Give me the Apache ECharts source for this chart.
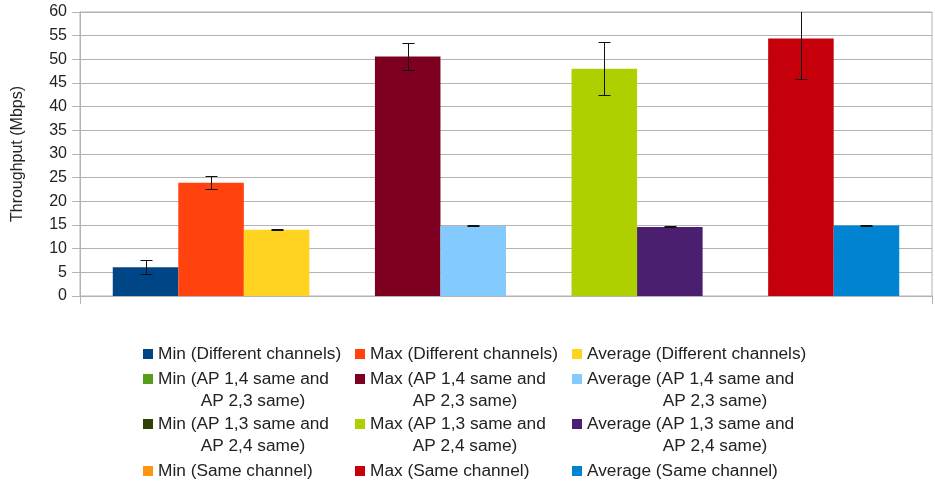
<!DOCTYPE html>
<html><head><meta charset="utf-8">
<script src="https://cdn.jsdelivr.net/npm/echarts@6/dist/echarts.min.js"></script>
<style>html,body{margin:0;padding:0;background:#fff}#c{width:935px;height:484px}</style>
</head><body><div id="c"></div>
<script>
// ---- data ----
const seriesNames = [
  'Min (Different channels)', 'Max (Different channels)', 'Average (Different channels)',
  'Min (AP 1,4 same and AP 2,3 same)', 'Max (AP 1,4 same and AP 2,3 same)', 'Average (AP 1,4 same and AP 2,3 same)',
  'Min (AP 1,3 same and AP 2,4 same)', 'Max (AP 1,3 same and AP 2,4 same)', 'Average (AP 1,3 same and AP 2,4 same)',
  'Min (Same channel)', 'Max (Same channel)', 'Average (Same channel)'
];
const seriesColors = [
  '#004586', '#ff420e', '#ffd320',
  '#579d1c', '#7e0021', '#83caff',
  '#314004', '#aecf00', '#4b1f6f',
  '#ff950e', '#c5000b', '#0084d1'
];
const throughputValues = [6.1, 23.9, 14.0, 0, 50.6, 14.8, 0, 48.0, 14.6, 0, 54.4, 14.9];
const errorValues = [1.45, 1.35, 0.05, null, 2.75, 0.1, null, 5.6, 0.1, null, 8.6, 0.1];
const yMin = 0, yMax = 60, yStep = 5;
const yAxisTitle = 'Throughput (Mbps)';

// ---- layout (styles only) ----
const FONT = 'Liberation Sans';
const TXT = '#222';
const GRID = '#b3b3b3';
const LFS = 17.3;
const legendCols = [143, 355, 572];
const legendColWidths = [190, 190, 256];
const legendRowTops = [[343, 0], [346, 1], [391, 1], [460, 0]]; // [top, twoLine]

const chart = echarts.init(document.getElementById('c'), null, {renderer: 'canvas'});

const barSeries = seriesNames.map((name, i) => ({
  name: name,
  type: 'custom',
  coordinateSystem: 'cartesian2d',
  itemStyle: {color: seriesColors[i]},
  encode: {x: 0, y: 1},
  data: [[i + 1, throughputValues[i]]],
  clip: true,
  z: 2,
  renderItem: function (params, api) {
    const x = api.value(0), v = api.value(1);
    const p0 = api.coord([x - 0.5, v]);
    const p1 = api.coord([x + 0.5, 0]);
    return {
      type: 'rect',
      shape: {x: p0[0], y: p0[1], width: p1[0] - p0[0], height: p1[1] - p0[1]},
      style: api.style()
    };
  }
}));

const errData = [];
throughputValues.forEach((v, i) => { if (errorValues[i] != null) errData.push([i + 1, v, errorValues[i]]); });

const errorSeries = {
  name: 'errors',
  type: 'custom',
  coordinateSystem: 'cartesian2d',
  encode: {x: 0, y: 1},
  data: errData,
  clip: true,
  z: 5,
  renderItem: function (params, api) {
    const x = api.value(0), v = api.value(1), e = api.value(2);
    const t = api.coord([x, v + e]), b = api.coord([x, v - e]);
    const cx = Math.round(t[0]) + 0.5;
    const ty = Math.round(t[1]) + 0.5, by = Math.round(b[1]) + 0.5;
    const st = {stroke: '#111', lineWidth: 1};
    return {type: 'group', children: [
      {type: 'line', shape: {x1: cx, y1: ty, x2: cx, y2: by}, style: st},
      {type: 'line', shape: {x1: cx - 6, y1: ty, x2: cx + 6, y2: ty}, style: st},
      {type: 'line', shape: {x1: cx - 6, y1: by, x2: cx + 6, y2: by}, style: st}
    ]};
  }
};

const legends = seriesNames.map((name, i) => {
  const col = i % 3, row = Math.floor(i / 3);
  const twoLine = legendRowTops[row][1] === 1;
  const w = legendColWidths[col];
  return {
    data: [name],
    left: legendCols[col],
    top: legendRowTops[row][0],
    padding: 0,
    itemWidth: 10,
    itemHeight: 10,
    icon: 'rect',
    selectedMode: false,
    formatter: function (n) {
      const k = n.indexOf(' and ');
      if (k < 0) return n;
      return '{a|' + n.slice(0, k + 4) + '}\n{b|' + n.slice(k + 5) + '}';
    },
    textStyle: {
      fontFamily: FONT, fontSize: LFS, color: TXT, lineHeight: 22,
      width: w,
      padding: twoLine ? [22, 0, 0, 0] : 0,
      rich: {
        a: {fontFamily: FONT, fontSize: LFS, color: TXT, lineHeight: 22, align: 'left'},
        b: {fontFamily: FONT, fontSize: LFS, color: TXT, lineHeight: 22, align: 'center'}
      }
    }
  };
});

chart.setOption({
  animation: false,
  backgroundColor: '#fff',
  grid: {left: 80, right: 3, top: 12, bottom: 188, show: true, borderColor: GRID, borderWidth: 1, backgroundColor: 'transparent'},
  legend: legends,
  xAxis: {
    type: 'value', min: 0, max: seriesNames.length + 1, interval: seriesNames.length + 1,
    axisLine: {show: true, lineStyle: {color: GRID}},
    axisTick: {show: true, length: 8, lineStyle: {color: GRID}},
    axisLabel: {show: false},
    splitLine: {show: false}
  },
  yAxis: {
    type: 'value', min: yMin, max: yMax, interval: yStep,
    name: yAxisTitle, nameLocation: 'middle', nameGap: 54,
    nameTextStyle: {fontFamily: FONT, fontSize: 16, color: TXT},
    axisLine: {show: true, lineStyle: {color: GRID}},
    axisTick: {show: true, length: 8, lineStyle: {color: GRID}},
    axisLabel: {fontFamily: FONT, fontSize: 16, color: TXT, margin: 13},
    splitLine: {show: true, lineStyle: {color: GRID}}
  },
  series: barSeries.concat([errorSeries])
});
</script></body></html>
